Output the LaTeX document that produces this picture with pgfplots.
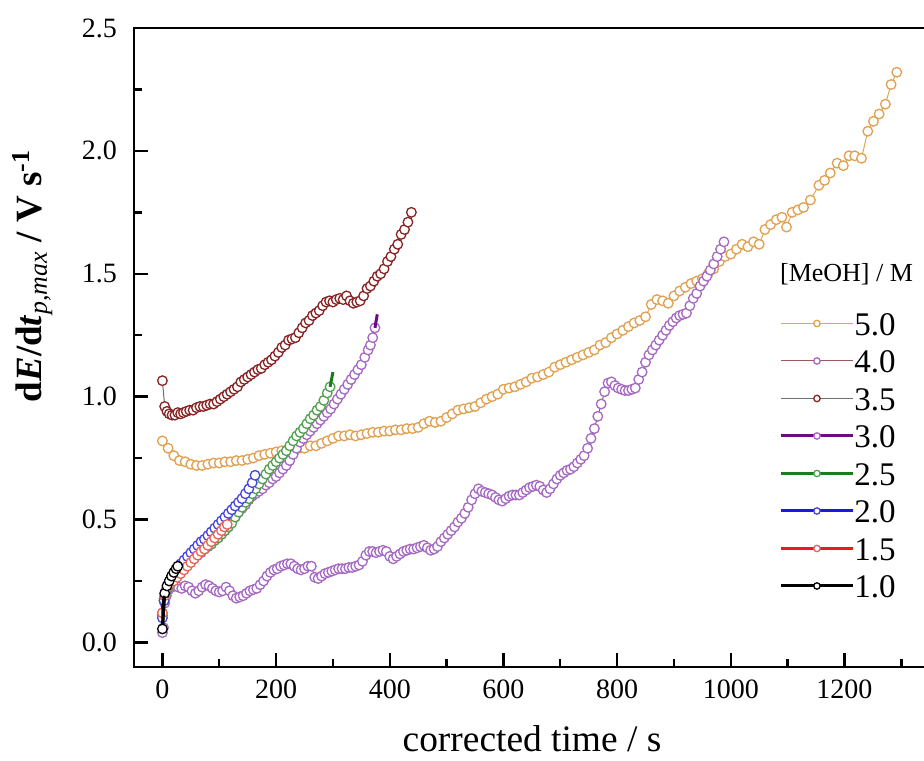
\documentclass[border=0pt]{standalone}
\usepackage{fontspec}
\setmainfont{Liberation Serif}
\usepackage{pgfplots}
\pgfplotsset{compat=1.18}

% line / marker colours per [MeOH]
\definecolor{l50}{RGB}{220,165,90}   \definecolor{m50}{RGB}{225,160,80}
\definecolor{l40}{RGB}{150,90,90}    \definecolor{m40}{RGB}{165,105,195}
\definecolor{l35}{RGB}{110,110,110}  \definecolor{m35}{RGB}{135,35,35}
\definecolor{l30}{RGB}{110,10,130}   \definecolor{m30}{RGB}{165,105,195}
\definecolor{l25}{RGB}{25,125,25}    \definecolor{m25}{RGB}{80,160,80}
\definecolor{l20}{RGB}{25,25,230}    \definecolor{m20}{RGB}{70,70,220}
\definecolor{l15}{RGB}{240,25,25}    \definecolor{m15}{RGB}{230,100,90}

\pgfplotsset{
  ser/.style n args={3}{color=#1, line width=#3, mark=*, mark size=2.4pt,
    mark options={draw=#2, fill=white, line width=0.65pt, solid}},
}

\begin{document}
\begin{tikzpicture}
% the right spine lies past the page edge, as in the cropped original
\useasboundingbox (-67pt,-46.5pt) rectangle (395pt,333.5pt);
\begin{axis}[
  name=main,
  scale only axis,
  width=400.7pt, height=319.5pt,
  xmin=-50, xmax=1360,
  ymin=-0.1, ymax=2.5,
  clip mode=individual,
  tick pos=left,
  tick align=inside,
  xtick={0,200,...,1200},
  minor xtick={100,300,...,1300},
  ytick={0,0.5,...,2.5},
  minor ytick={0.25,0.75,...,2.25},
  major tick length=7pt, minor tick length=4pt,
  axis line style={line width=1.1pt},
  tick style={draw=black, line width=1.1pt},
  /pgf/number format/assume math mode=true,
  /pgf/number format/1000 sep={},
  tick label style={font=\fontsize{14}{16}\selectfont},
  yticklabel style={/pgf/number format/fixed, /pgf/number format/fixed zerofill,
    /pgf/number format/precision=1, xshift=-5pt},
  xticklabel style={yshift=-3pt},
  xlabel={corrected time / s},
  xlabel style={font=\fontsize{18.7}{20}\selectfont, at={(axis description cs:0.4966,-0.133)}, anchor=base},
  legend cell align=left,
  legend image code/.code={\draw[#1, mark repeat=2, mark phase=2, mark size=1.6pt]
    plot coordinates {(0pt,0pt) (18pt,0pt) (36pt,0pt)};},
  legend style={at={(rel axis cs:0.8049,0.557)}, anchor=north west,
    draw=none, fill=none, inner sep=0pt, row sep=6.75pt,
    font=\fontsize{16.5}{17}\selectfont,
    nodes={inner sep=0pt, text height=12pt, text depth=0pt},
    /tikz/every even column/.append style={column sep=4pt}},
]

% 5.0 M
\addplot[ser={l50}{m50}{0.5pt}] coordinates {
(0,0.82) (10,0.79) (20,0.76) (30,0.74) (40,0.735) (50,0.725) (60,0.72) (70,0.72)
(80,0.725) (90,0.73) (100,0.73) (110,0.735) (120,0.735) (130,0.74) (140,0.74)
(150,0.745) (160,0.75) (170,0.76) (180,0.765) (190,0.77) (200,0.775) (210,0.78)
(220,0.785) (230,0.785) (240,0.79) (250,0.79) (260,0.80) (270,0.80) (280,0.81)
(290,0.82) (300,0.83) (310,0.84) (320,0.84) (330,0.845) (340,0.84) (350,0.845)
(360,0.85) (370,0.855) (380,0.855) (390,0.86) (400,0.86) (410,0.865) (420,0.865)
(430,0.87) (440,0.87) (450,0.875) (460,0.89) (470,0.90) (480,0.895) (490,0.90)
(500,0.915) (510,0.93) (520,0.945) (530,0.95) (540,0.955) (550,0.96) (560,0.975)
(570,0.99) (580,1.0) (590,1.01) (600,1.03) (610,1.035) (620,1.04) (630,1.05)
(640,1.06) (650,1.075) (660,1.08) (670,1.09) (680,1.10) (690,1.12) (700,1.13)
(710,1.14) (720,1.15) (730,1.16) (740,1.17) (750,1.18) (760,1.19) (770,1.21)
(780,1.22) (790,1.24) (800,1.255) (810,1.27) (820,1.285) (830,1.30) (840,1.31)
(850,1.325) (860,1.375) (870,1.395) (880,1.39) (890,1.38) (900,1.41) (910,1.43)
(920,1.445) (930,1.46) (940,1.47) (950,1.48) (960,1.50) (970,1.52) (980,1.55)
(990,1.57) (1000,1.58) (1010,1.60) (1020,1.62) (1030,1.61) (1040,1.63) (1050,1.62)
(1060,1.68) (1070,1.70) (1080,1.72) (1090,1.73) (1098,1.69) (1108,1.75) (1118,1.76)
(1128,1.77) (1140,1.80) (1155,1.86) (1165,1.88) (1175,1.91) (1187,1.95) (1198,1.94)
(1208,1.98) (1218,1.98) (1230,1.97) (1241,2.08) (1251,2.12) (1261,2.15) (1272,2.19)
(1282,2.27) (1292,2.32)
};
\addlegendentry{5.0}

% 4.0 M
\addplot[ser={l40}{m40}{0.5pt}] coordinates {
(0,0.04) (2,0.06) (4,0.16) (7,0.19) (11,0.215) (16,0.225) (22,0.23) (28,0.225)
(34,0.22) (40,0.23) (46,0.225) (52,0.21) (58,0.2) (64,0.21) (70,0.225) (76,0.235)
(82,0.23) (88,0.22) (94,0.21) (100,0.205) (106,0.21) (112,0.225) (118,0.21)
(124,0.19) (130,0.18) (136,0.185) (142,0.19) (148,0.2) (154,0.21) (160,0.215)
(166,0.22) (172,0.235) (178,0.25) (184,0.27) (190,0.285) (196,0.295) (202,0.3)
(208,0.31) (214,0.315) (220,0.32) (226,0.32) (232,0.31) (238,0.3) (244,0.295)
(250,0.3) (256,0.31) (262,0.31) (268,0.265) (274,0.26) (280,0.27) (286,0.28)
(292,0.285) (298,0.29) (304,0.295) (310,0.3) (316,0.3) (322,0.3) (328,0.305)
(334,0.305) (340,0.31) (346,0.315) (352,0.33) (358,0.355) (364,0.37) (370,0.37)
(376,0.365) (382,0.37) (388,0.375) (394,0.37) (400,0.35) (406,0.34) (412,0.35)
(418,0.36) (424,0.37) (430,0.375) (436,0.38) (442,0.38) (448,0.385) (454,0.39)
(460,0.395) (466,0.385) (472,0.375) (478,0.38) (484,0.39) (490,0.41) (496,0.425)
(502,0.44) (508,0.455) (514,0.47) (520,0.49) (526,0.505) (532,0.525) (538,0.55)
(544,0.58) (550,0.605) (556,0.625) (562,0.615) (568,0.61) (574,0.605) (580,0.6)
(586,0.59) (592,0.58) (598,0.575) (604,0.585) (610,0.595) (616,0.6) (622,0.6)
(628,0.6) (634,0.61) (640,0.62) (646,0.63) (652,0.635) (658,0.64) (664,0.635)
(670,0.62) (676,0.61) (682,0.625) (688,0.645) (694,0.665) (700,0.68) (706,0.69)
(712,0.70) (718,0.705) (724,0.715) (730,0.73) (736,0.745) (742,0.76) (748,0.79)
(754,0.83) (760,0.87) (766,0.92) (772,0.97) (778,1.02) (784,1.055) (790,1.06)
(796,1.045) (802,1.035) (808,1.03) (814,1.025) (820,1.025) (826,1.03) (832,1.035)
(838,1.07) (844,1.10) (850,1.14) (856,1.17) (862,1.19) (868,1.21) (874,1.23)
(880,1.25) (886,1.27) (892,1.29) (898,1.305) (904,1.32) (910,1.33) (916,1.335)
(922,1.34) (928,1.37) (934,1.40) (940,1.42) (946,1.45) (952,1.47) (958,1.49)
(964,1.515) (970,1.54) (976,1.57) (982,1.60) (988,1.63)
};
\addlegendentry{4.0}

% 3.5 M
\addplot[ser={l35}{m35}{0.5pt}] coordinates {
(0,1.065) (4,0.96) (8,0.94) (12,0.93) (17,0.925) (22,0.925) (27,0.935) (32,0.93)
(37,0.935) (42,0.94) (48,0.945) (54,0.945) (60,0.955) (66,0.96) (72,0.96)
(78,0.965) (84,0.97) (90,0.97) (96,0.98) (102,0.99) (108,1.0) (114,1.01)
(120,1.02) (126,1.03) (132,1.04) (138,1.06) (144,1.07) (150,1.08) (156,1.09)
(162,1.1) (168,1.11) (174,1.115) (180,1.13) (186,1.14) (192,1.15) (198,1.165)
(204,1.18) (210,1.2) (216,1.21) (222,1.23) (228,1.235) (234,1.24) (240,1.26)
(246,1.28) (252,1.3) (258,1.31) (264,1.33) (270,1.34) (276,1.35) (282,1.37)
(288,1.385) (294,1.39) (300,1.385) (306,1.395) (312,1.40) (318,1.395) (324,1.41)
(330,1.39) (336,1.38) (342,1.385) (348,1.39) (354,1.41) (360,1.44) (366,1.45)
(372,1.47) (378,1.49) (384,1.5) (390,1.52) (396,1.55) (402,1.57) (408,1.60)
(414,1.62) (420,1.66) (426,1.68) (432,1.71) (438,1.75)
};
\addlegendentry{3.5}

% 3.0 M
\addplot[ser={l30}{m30}{1.5pt}] coordinates {
(0,0.12) (3,0.18) (6,0.21) (10,0.23) (15,0.245) (20,0.26) (26,0.275) (32,0.29)
(38,0.305) (44,0.32) (50,0.33) (56,0.345) (62,0.355) (68,0.365) (74,0.38)
(80,0.39) (86,0.40) (92,0.415) (98,0.425) (104,0.44) (110,0.455) (116,0.47)
(122,0.49) (128,0.51) (134,0.53) (140,0.545) (146,0.56) (152,0.58) (158,0.595)
(164,0.605) (170,0.615) (176,0.625) (182,0.64) (188,0.65) (194,0.665) (200,0.675)
(206,0.69) (212,0.705) (218,0.72) (224,0.74) (230,0.765) (236,0.79) (242,0.815)
(248,0.83) (254,0.845) (260,0.86) (266,0.875) (272,0.89) (278,0.905) (284,0.92)
(290,0.935) (296,0.95) (302,0.97) (308,0.99) (314,1.01) (320,1.03) (326,1.05)
(332,1.07) (338,1.09) (344,1.11) (350,1.13) (356,1.16) (362,1.19) (366,1.21)
(370,1.24) (374,1.28)
};
\addlegendentry{3.0}
\addplot[l30, line width=1.5pt, forget plot] coordinates {(374,1.28) (378,1.335)};

% 2.5 M
\addplot[ser={l25}{m25}{1.5pt}] coordinates {
(0,0.11) (3,0.17) (6,0.2) (10,0.22) (15,0.24) (20,0.255) (26,0.275) (32,0.29)
(38,0.30) (44,0.315) (50,0.33) (56,0.345) (62,0.355) (68,0.37) (74,0.38)
(80,0.39) (86,0.40) (92,0.415) (98,0.425) (104,0.44) (110,0.455) (116,0.47)
(122,0.485) (128,0.51) (134,0.53) (140,0.55) (146,0.57) (152,0.585) (158,0.605)
(164,0.625) (170,0.645) (176,0.665) (182,0.685) (188,0.705) (194,0.72) (200,0.735)
(206,0.75) (212,0.765) (218,0.78) (224,0.80) (230,0.82) (236,0.84) (242,0.855)
(248,0.87) (254,0.89) (260,0.91) (266,0.925) (272,0.945) (278,0.96) (284,0.985)
(290,1.015) (295,1.04)
};
\addlegendentry{2.5}
\addplot[l25, line width=1.5pt, forget plot] coordinates {(295,1.04) (300,1.10)};

% 2.0 M
\addplot[ser={l20}{m20}{1.5pt}] coordinates {
(0,0.10) (3,0.17) (6,0.21) (10,0.235) (15,0.26) (20,0.28) (26,0.30) (32,0.32)
(38,0.335) (44,0.35) (50,0.365) (56,0.38) (62,0.395) (68,0.41) (74,0.42)
(80,0.435) (86,0.45) (92,0.465) (98,0.48) (104,0.495) (110,0.51) (116,0.525)
(122,0.54) (128,0.555) (134,0.57) (140,0.585) (146,0.605) (152,0.625) (158,0.65)
(163,0.68)
};
\addlegendentry{2.0}

% 1.5 M
\addplot[ser={l15}{m15}{1.5pt}] coordinates {
(0,0.12) (4,0.19) (8,0.22) (14,0.24) (20,0.25) (26,0.265) (32,0.28) (38,0.295)
(44,0.31) (50,0.325) (56,0.34) (62,0.355) (68,0.37) (74,0.38) (80,0.395)
(86,0.41) (92,0.425) (98,0.44) (104,0.455) (109,0.47) (114,0.48)
};
\addlegendentry{1.5}

% 1.0 M
\addplot[ser={black}{black}{1.5pt}] coordinates {
(0,0.055) (4,0.2) (8,0.23) (12,0.25) (16,0.27) (20,0.285) (24,0.3) (27,0.31)
};
\addlegendentry{1.0}
\addplot[black, line width=1.5pt, forget plot] coordinates {(0.5,0.07) (1,0.15) (3,0.19)};

\node[anchor=base west, font=\fontsize{13}{14}\selectfont] at (rel axis cs:0.7974,0.604) {[MeOH] / M};
\node[rotate=90, anchor=center, font=\fontsize{18.5}{20}\selectfont] at (rel axis cs:-0.127,0.612)
  {\textbf{d}\textbf{\textit{E}}\textbf{/d}\textbf{\textit{t}}\textsubscript{\textit{p,max}}\textbf{ / V s}\textsuperscript{\textbf{-1}}};
\end{axis}
% inward tick marks along the bottom and left spines (axis box: 400.7pt x 319.5pt at the origin)
\foreach \x in {14.21,71.05,127.88,184.72,241.56,298.39,355.23}
  \draw[line width=1.2pt, black] (\x pt,0pt) -- (\x pt,7pt);
\foreach \x in {42.63,99.46,156.30,213.14,269.97,326.81,383.65}
  \draw[line width=1.2pt, black] (\x pt,0pt) -- (\x pt,4pt);
\foreach \y in {12.29,73.73,135.17,196.61,258.05}
  \draw[line width=1.2pt, black] (0pt,\y pt) -- (7pt,\y pt);
\foreach \y in {43.01,104.45,165.89,227.33,288.77}
  \draw[line width=1.2pt, black] (0pt,\y pt) -- (4pt,\y pt);
\end{tikzpicture}
\end{document}
